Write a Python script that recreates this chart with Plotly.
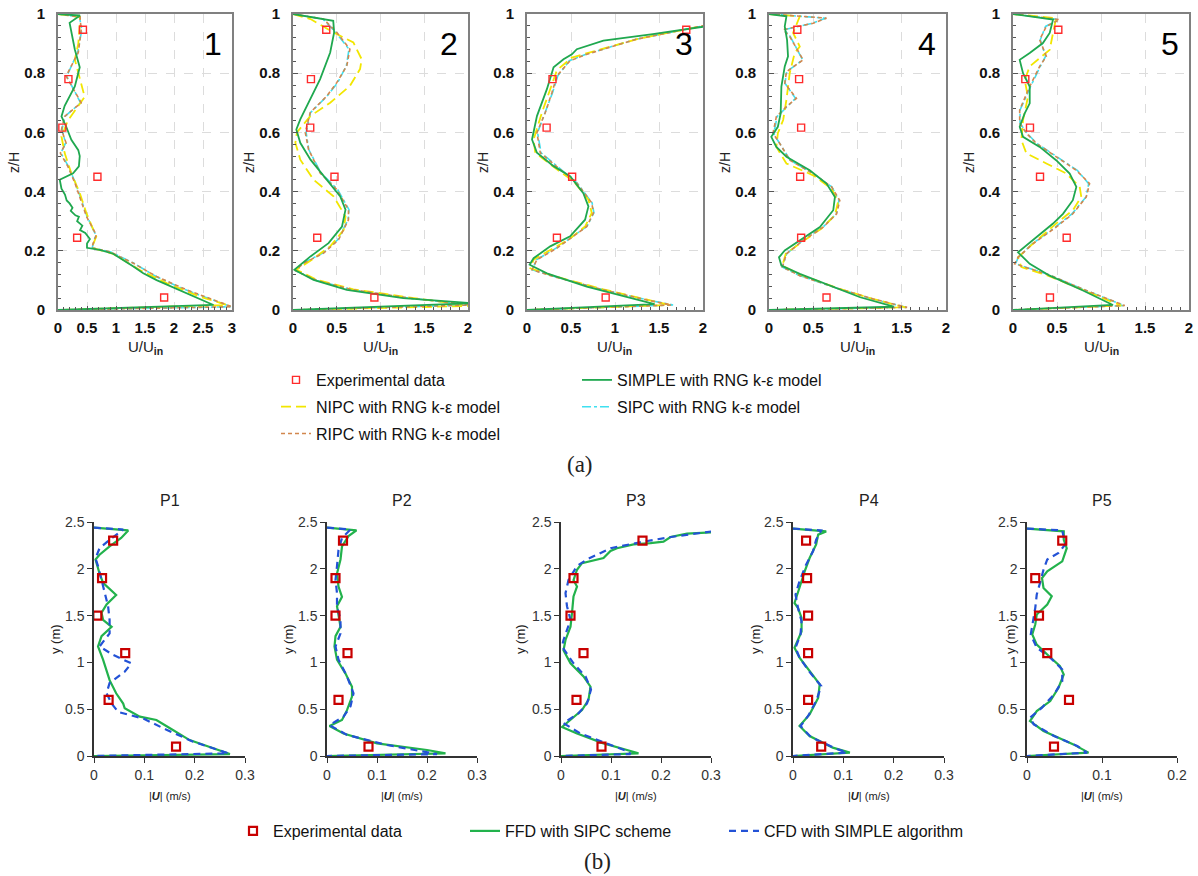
import plotly.graph_objects as go

# ---------------- DATA ----------------
# Top row (a): z/H profiles of U/Uin, five locations
EXP_Z = [0.042, 0.244, 0.45, 0.616, 0.78, 0.947]
A1_EXP_U = [1.83, 0.33, 0.68, 0.075, 0.18, 0.43]
A2_EXP_U = [0.93, 0.277, 0.474, 0.197, 0.205, 0.38]
A3_EXP_U = [0.894, 0.34, 0.513, 0.223, 0.29, 1.81]
A4_EXP_U = [0.65, 0.363, 0.352, 0.363, 0.34, 0.32]
A5_EXP_U = [0.42, 0.61, 0.307, 0.193, 0.14, 0.515]

# panel 1
A1_SIMPLE_Z = [1.0, 0.995, 0.97, 0.936, 0.88, 0.82, 0.755, 0.69, 0.654, 0.62, 0.575, 0.54, 0.52, 0.485, 0.462, 0.44,
               0.41, 0.39, 0.37, 0.36, 0.345, 0.335, 0.32, 0.315, 0.3, 0.285, 0.27, 0.26, 0.24, 0.225, 0.21, 0.203,
               0.19, 0.147, 0.124, 0.101, 0.056, 0.017, 0.0]
A1_SIMPLE_U = [0.0, 0.38, 0.2, 0.23, 0.29, 0.375, 0.29, 0.115, 0.06, 0.14, 0.23, 0.35, 0.375, 0.36, 0.26, 0.03,
               0.06, 0.12, 0.15, 0.2, 0.25, 0.22, 0.3, 0.36, 0.33, 0.42, 0.38, 0.47, 0.55, 0.5, 0.5, 0.72,
               0.95, 1.3, 1.47, 1.7, 2.22, 2.68, 0.0]
A1_NIPC_Z = [1.0, 0.99, 0.96, 0.9, 0.846, 0.72, 0.64, 0.586, 0.53, 0.462, 0.395, 0.327, 0.248, 0.21, 0.19, 0.135,
             0.09, 0.045, 0.017, 0.0]
A1_NIPC_U = [0.0, 0.38, 0.375, 0.35, 0.29, 0.46, 0.17, 0.06, 0.115, 0.23, 0.375, 0.49, 0.66, 0.58, 0.95, 1.41,
             1.88, 2.45, 2.91, 0.0]
A1_RIPC_Z = [1.0, 0.99, 0.947, 0.87, 0.79, 0.70, 0.654, 0.61, 0.564, 0.53, 0.485, 0.43, 0.316, 0.254, 0.21, 0.197,
             0.158, 0.113, 0.068, 0.034, 0.011, 0.0]
A1_RIPC_U = [0.0, 0.38, 0.4, 0.35, 0.14, 0.4, 0.115, 0.06, 0.14, 0.04, 0.17, 0.29, 0.49, 0.66, 0.58, 0.89,
             1.3, 1.7, 2.22, 2.68, 3.0, 0.0]
A1_SIPC_U = [0.0, 0.37, 0.41, 0.34, 0.15, 0.39, 0.12, 0.07, 0.13, 0.05, 0.18, 0.3, 0.5, 0.65, 0.59, 0.9,
             1.31, 1.69, 2.2, 2.66, 2.98, 0.0]

# panel 2
A2_SIMPLE_Z = [1.0, 0.977, 0.938, 0.87, 0.78, 0.712, 0.644, 0.61, 0.565, 0.508, 0.44, 0.384, 0.339, 0.282, 0.226,
               0.181, 0.136, 0.102, 0.068, 0.04, 0.023, 0.0]
A2_SIMPLE_U = [0.0, 0.46, 0.47, 0.425, 0.31, 0.2, 0.083, 0.038, 0.083, 0.2, 0.387, 0.54, 0.6, 0.56, 0.406,
               0.2, 0.015, 0.235, 0.615, 1.26, 2.05, 0.0]
A2_RIPC_Z = [1.0, 0.983, 0.938, 0.881, 0.825, 0.768, 0.723, 0.667, 0.6, 0.542, 0.463, 0.407, 0.339, 0.305, 0.237,
             0.192, 0.158, 0.133, 0.1, 0.068, 0.04, 0.017, 0.0]
A2_RIPC_U = [0.0, 0.35, 0.5, 0.65, 0.615, 0.5, 0.387, 0.197, 0.14, 0.178, 0.31, 0.5, 0.634, 0.634, 0.52,
             0.35, 0.12, 0.027, 0.27, 0.69, 1.34, 2.05, 0.0]
A2_SIPC_U = [0.0, 0.34, 0.49, 0.64, 0.61, 0.51, 0.39, 0.2, 0.15, 0.18, 0.32, 0.51, 0.64, 0.63, 0.51,
             0.34, 0.11, 0.03, 0.27, 0.68, 1.33, 2.05, 0.0]
A2_NIPC_Z = [1.0, 0.983, 0.938, 0.904, 0.847, 0.814, 0.757, 0.7, 0.655, 0.6, 0.565, 0.508, 0.44, 0.384, 0.316,
             0.271, 0.215, 0.17, 0.136, 0.102, 0.07, 0.042, 0.014, 0.0]
A2_NIPC_U = [0.0, 0.2, 0.46, 0.69, 0.785, 0.766, 0.65, 0.425, 0.197, 0.045, 0.027, 0.083, 0.235, 0.463, 0.6,
             0.58, 0.425, 0.216, 0.038, 0.27, 0.69, 1.34, 2.05, 0.0]

# panel 3
A3_SIMPLE_Z = [0.96, 0.957, 0.932, 0.91, 0.881, 0.864, 0.847, 0.82, 0.746, 0.655, 0.576, 0.531, 0.486, 0.452,
               0.395, 0.35, 0.305, 0.249, 0.215, 0.175, 0.153, 0.124, 0.079, 0.04, 0.02, 0.0]
A3_SIMPLE_U = [2.1, 2.0, 1.43, 0.868, 0.566, 0.51, 0.415, 0.302, 0.226, 0.113, 0.057, 0.113, 0.302, 0.49,
               0.64, 0.698, 0.66, 0.49, 0.264, 0.075, 0.03, 0.226, 0.679, 1.17, 1.45, 0.0]
A3_RIPC_Z = [0.965, 0.96, 0.915, 0.864, 0.842, 0.791, 0.734, 0.667, 0.599, 0.531, 0.475, 0.429, 0.362, 0.328,
             0.282, 0.249, 0.209, 0.17, 0.136, 0.113, 0.068, 0.034, 0.017, 0.0]
A3_RIPC_U = [2.1, 2.0, 1.245, 0.68, 0.49, 0.34, 0.283, 0.208, 0.113, 0.151, 0.377, 0.566, 0.736, 0.755,
             0.679, 0.528, 0.34, 0.113, 0.057, 0.302, 0.868, 1.36, 1.64, 0.0]
A3_SIPC_U = [2.1, 2.0, 1.24, 0.67, 0.48, 0.35, 0.29, 0.21, 0.12, 0.16, 0.38, 0.57, 0.74, 0.76,
             0.68, 0.52, 0.33, 0.11, 0.06, 0.31, 0.87, 1.37, 1.66, 0.0]
A3_NIPC_Z = [0.965, 0.96, 0.915, 0.853, 0.81, 0.746, 0.667, 0.576, 0.531, 0.475, 0.435, 0.373, 0.328, 0.282,
             0.237, 0.203, 0.17, 0.141, 0.115, 0.07, 0.036, 0.017, 0.0]
A3_NIPC_U = [2.1, 2.0, 1.25, 0.51, 0.34, 0.264, 0.17, 0.075, 0.094, 0.34, 0.528, 0.698, 0.736, 0.66,
             0.47, 0.264, 0.075, 0.038, 0.302, 0.868, 1.36, 1.62, 0.0]

# panel 4
A4_SIMPLE_Z = [1.0, 0.992, 0.958, 0.913, 0.857, 0.823, 0.755, 0.664, 0.619, 0.585, 0.551, 0.518, 0.472, 0.427,
               0.382, 0.337, 0.28, 0.235, 0.201, 0.178, 0.15, 0.122, 0.077, 0.043, 0.011, 0.0]
A4_SIMPLE_U = [0.0, 0.197, 0.178, 0.204, 0.215, 0.178, 0.14, 0.132, 0.1, 0.026, 0.083, 0.197, 0.46, 0.65,
               0.745, 0.726, 0.575, 0.348, 0.178, 0.113, 0.14, 0.348, 0.726, 1.03, 1.41, 0.0]
A4_RIPC_Z = [1.0, 0.986, 0.969, 0.947, 0.924, 0.845, 0.805, 0.766, 0.715, 0.687, 0.653, 0.619, 0.597, 0.563,
             0.506, 0.461, 0.416, 0.37, 0.325, 0.28, 0.235, 0.19, 0.145, 0.116, 0.071, 0.037, 0.009, 0.0]
A4_RIPC_U = [0.0, 0.65, 0.5, 0.16, 0.234, 0.386, 0.197, 0.178, 0.31, 0.197, 0.083, 0.064, 0.045, 0.121,
             0.234, 0.499, 0.707, 0.8, 0.764, 0.612, 0.386, 0.197, 0.151, 0.348, 0.8, 1.18, 1.56, 0.0]
A4_SIPC_U = [0.0, 0.64, 0.49, 0.17, 0.24, 0.38, 0.2, 0.18, 0.3, 0.2, 0.09, 0.07, 0.05, 0.12,
             0.24, 0.5, 0.71, 0.79, 0.76, 0.61, 0.38, 0.2, 0.15, 0.35, 0.79, 1.17, 1.55, 0.0]
A4_NIPC_Z = [1.0, 0.992, 0.936, 0.89, 0.868, 0.8, 0.71, 0.642, 0.597, 0.551, 0.495, 0.455, 0.41, 0.365, 0.32,
             0.275, 0.229, 0.19, 0.15, 0.12, 0.071, 0.037, 0.009, 0.0]
A4_NIPC_U = [0.0, 0.348, 0.272, 0.348, 0.29, 0.234, 0.197, 0.16, 0.1, 0.083, 0.197, 0.499, 0.707, 0.78, 0.745,
             0.594, 0.367, 0.189, 0.151, 0.348, 0.8, 1.18, 1.54, 0.0]

# panel 5
A5_SIMPLE_Z = [1.0, 0.981, 0.936, 0.902, 0.868, 0.845, 0.8, 0.755, 0.698, 0.664, 0.619, 0.585, 0.551, 0.506,
               0.461, 0.416, 0.371, 0.325, 0.292, 0.235, 0.195, 0.156, 0.116, 0.066, 0.017, 0.0]
A5_SIMPLE_U = [0.0, 0.455, 0.417, 0.34, 0.19, 0.076, 0.114, 0.19, 0.19, 0.133, 0.076, 0.114, 0.303, 0.49,
               0.644, 0.72, 0.68, 0.568, 0.455, 0.227, 0.057, 0.19, 0.417, 0.795, 1.136, 0.0]
A5_RIPC_Z = [1.0, 0.981, 0.958, 0.913, 0.857, 0.823, 0.755, 0.676, 0.631, 0.597, 0.563, 0.518, 0.472, 0.427,
             0.382, 0.325, 0.28, 0.224, 0.178, 0.156, 0.12, 0.066, 0.015, 0.0]
A5_RIPC_U = [0.0, 0.53, 0.379, 0.303, 0.379, 0.303, 0.19, 0.076, 0.076, 0.152, 0.265, 0.49, 0.72, 0.87,
             0.833, 0.68, 0.49, 0.227, 0.057, 0.019, 0.398, 0.833, 1.27, 0.0]
A5_SIPC_U = [0.0, 0.52, 0.37, 0.31, 0.37, 0.31, 0.2, 0.08, 0.08, 0.16, 0.27, 0.5, 0.73, 0.86,
             0.83, 0.67, 0.48, 0.22, 0.06, 0.03, 0.4, 0.83, 1.26, 0.0]
A5_NIPC_Z = [1.0, 0.986, 0.936, 0.879, 0.823, 0.777, 0.72, 0.642, 0.574, 0.529, 0.495, 0.461, 0.416, 0.382,
             0.337, 0.292, 0.224, 0.178, 0.145, 0.116, 0.063, 0.015, 0.0]
A5_NIPC_U = [0.0, 0.49, 0.455, 0.417, 0.19, 0.133, 0.17, 0.114, 0.095, 0.152, 0.379, 0.606, 0.758, 0.776,
             0.68, 0.49, 0.227, 0.057, 0.095, 0.398, 0.833, 1.23, 0.0]

TOP_LABELS = ["1", "2", "3", "4", "5"]
TOP_XMAX = [3, 2, 2, 2, 2]

# Bottom row (b): y (m) profiles of |U| (m/s), P1..P5
EXP_Y = [0.1, 0.6, 1.1, 1.5, 1.9, 2.3]
B1_EXP_U = [0.163, 0.029, 0.062, 0.0066, 0.016, 0.038]
B2_EXP_U = [0.083, 0.023, 0.041, 0.017, 0.017, 0.032]
B3_EXP_U = [0.081, 0.031, 0.045, 0.019, 0.025, 0.163]
B4_EXP_U = [0.056, 0.03, 0.03, 0.03, 0.028, 0.026]
B5_EXP_U = [0.036, 0.056, 0.027, 0.016, 0.011, 0.047]

B1_FFD_Y = [2.44, 2.41, 2.33, 2.24, 2.15, 2.1, 1.95, 1.85, 1.72, 1.62, 1.53, 1.455, 1.38, 1.28, 1.17, 1.03, 0.81,
            0.67, 0.56, 0.51, 0.42, 0.385, 0.296, 0.17, 0.046, 0.02, 0.0]
B1_FFD_U = [0.0, 0.068, 0.054, 0.031, 0.011, 0.003, 0.011, 0.018, 0.044, 0.025, 0.015, 0.018, 0.035, 0.015,
            0.008, 0.018, 0.031, 0.044, 0.058, 0.061, 0.091, 0.124, 0.151, 0.19, 0.257, 0.27, 0.0]
B1_CFD_Y = [2.44, 2.42, 2.31, 2.22, 2.11, 2.03, 1.88, 1.74, 1.6, 1.455, 1.31, 1.17, 1.08, 0.99, 0.9, 0.78, 0.67,
            0.56, 0.47, 0.4, 0.28, 0.153, 0.082, 0.029, 0.0]
B1_CFD_U = [0.0, 0.058, 0.031, 0.011, 0.003, 0.008, 0.015, 0.021, 0.028, 0.031, 0.031, 0.011, 0.038, 0.074,
            0.061, 0.031, 0.025, 0.035, 0.048, 0.098, 0.144, 0.197, 0.237, 0.267, 0.0]

B2_FFD_Y = [2.44, 2.41, 2.35, 2.24, 2.1, 1.95, 1.81, 1.7, 1.6, 1.49, 1.38, 1.28, 1.17, 1.03, 0.88, 0.74, 0.635,
            0.49, 0.385, 0.32, 0.24, 0.135, 0.064, 0.029, 0.0]
B2_FFD_U = [0.0, 0.059, 0.043, 0.03, 0.027, 0.02, 0.023, 0.03, 0.02, 0.023, 0.027, 0.017, 0.015, 0.02, 0.037,
            0.05, 0.05, 0.04, 0.03, 0.005, 0.033, 0.1, 0.2, 0.237, 0.0]
B2_CFD_Y = [2.44, 2.42, 2.33, 2.2, 2.03, 1.88, 1.74, 1.6, 1.455, 1.31, 1.17, 1.03, 0.85, 0.67, 0.53, 0.42, 0.33,
            0.225, 0.118, 0.046, 0.02, 0.0]
B2_CFD_U = [0.0, 0.047, 0.03, 0.023, 0.02, 0.017, 0.02, 0.02, 0.027, 0.027, 0.017, 0.023, 0.04, 0.053, 0.047,
            0.033, 0.005, 0.04, 0.12, 0.193, 0.22, 0.0]

B3_FFD_Y = [2.39, 2.375, 2.34, 2.29, 2.275, 2.26, 2.22, 2.19, 2.115, 2.08, 2.06, 1.99, 1.88, 1.81, 1.705, 1.53,
            1.38, 1.24, 1.13, 0.99, 0.85, 0.74, 0.6, 0.49, 0.385, 0.31, 0.24, 0.135, 0.064, 0.029, 0.0]
B3_FFD_U = [0.302, 0.252, 0.219, 0.205, 0.179, 0.145, 0.112, 0.099, 0.085, 0.059, 0.042, 0.032, 0.025, 0.032,
            0.025, 0.022, 0.019, 0.009, 0.005, 0.019, 0.045, 0.059, 0.055, 0.042, 0.019, 0.002, 0.032, 0.085,
            0.132, 0.155, 0.0]
B3_CFD_Y = [2.4, 2.34, 2.29, 2.22, 2.1, 2.03, 1.88, 1.74, 1.6, 1.455, 1.24, 1.17, 0.99, 0.85, 0.71, 0.56, 0.456,
            0.35, 0.24, 0.118, 0.046, 0.021, 0.0]
B3_CFD_U = [0.302, 0.22, 0.165, 0.099, 0.052, 0.032, 0.015, 0.009, 0.012, 0.019, 0.005, 0.002, 0.025, 0.049,
            0.06, 0.052, 0.035, 0.005, 0.039, 0.099, 0.135, 0.139, 0.0]

B4_FFD_Y = [2.43, 2.4, 2.365, 2.26, 2.115, 1.97, 1.8, 1.635, 1.58, 1.476, 1.33, 1.156, 1.05, 0.907, 0.765, 0.62,
            0.445, 0.32, 0.213, 0.089, 0.036, 0.0]
B4_FFD_U = [0.0, 0.066, 0.05, 0.046, 0.033, 0.023, 0.013, 0.003, 0.01, 0.017, 0.017, 0.003, 0.013, 0.033, 0.053,
            0.05, 0.033, 0.013, 0.033, 0.079, 0.113, 0.0]
B4_CFD_Y = [2.43, 2.41, 2.31, 2.19, 2.045, 1.87, 1.725, 1.58, 1.44, 1.3, 1.156, 1.05, 0.89, 0.747, 0.587, 0.427,
            0.32, 0.2, 0.078, 0.036, 0.0]
B4_CFD_U = [0.0, 0.056, 0.046, 0.04, 0.026, 0.013, 0.005, 0.01, 0.017, 0.015, 0.005, 0.013, 0.034, 0.056, 0.046,
            0.03, 0.015, 0.036, 0.086, 0.107, 0.0]

B5_FFD_Y = [2.43, 2.4, 2.31, 2.22, 2.08, 1.974, 1.9, 1.795, 1.707, 1.618, 1.511, 1.405, 1.298, 1.19, 1.085, 0.96,
            0.871, 0.729, 0.587, 0.48, 0.373, 0.267, 0.124, 0.036, 0.0]
B5_FFD_U = [0.0, 0.049, 0.049, 0.053, 0.047, 0.027, 0.02, 0.022, 0.033, 0.027, 0.013, 0.011, 0.007, 0.013, 0.027,
            0.044, 0.049, 0.042, 0.031, 0.013, 0.004, 0.022, 0.062, 0.082, 0.0]
B5_CFD_Y = [2.43, 2.41, 2.26, 2.17, 2.1, 1.99, 1.867, 1.725, 1.58, 1.44, 1.298, 1.156, 1.05, 0.925, 0.8, 0.658,
            0.516, 0.409, 0.338, 0.213, 0.107, 0.036, 0.0]
B5_CFD_U = [0.0, 0.047, 0.051, 0.042, 0.027, 0.022, 0.018, 0.013, 0.011, 0.008, 0.005, 0.013, 0.031, 0.047, 0.047,
            0.036, 0.02, 0.004, 0.009, 0.036, 0.067, 0.08, 0.0]

BOTTOM_TITLES = ["P1", "P2", "P3", "P4", "P5"]
BOTTOM_XMAX = [0.3, 0.3, 0.3, 0.3, 0.2]

# ---------------- LAYOUT GEOMETRY (pixels in the 1198x876 page) ----------------
W, H = 1198, 876
TOP_X = [(58, 232), (293, 468), (527, 703), (769, 946), (1013, 1189)]
TOP_Y = (14, 310)
BOT_X = [(94, 245), (327, 477), (561, 711), (793, 944), (1027, 1177)]
BOT_Y = (522, 756)
BOT_YTITLE_OFF = [39, 39, 41, 38, 17]


def px(x):
    return x / W


def py(y):
    return 1 - y / H


SANS = "Liberation Sans, Arial, sans-serif"
NARROW = "Liberation Sans Narrow, Arial Narrow, Liberation Sans, Arial, sans-serif"
SERIF = "Liberation Serif, Times New Roman, serif"

C_EXP_A = "#ff2b2b"
C_NIPC = "#f2e600"
C_RIPC = "#d2874e"
C_SIMPLE = "#1fa84f"
C_SIPC = "#3fe0f0"
C_EXP_B = "#c80000"
C_FFD = "#22b24c"
C_CFD = "#2352d6"

top_sets = [
    (A1_EXP_U, A1_SIMPLE_U, A1_SIMPLE_Z, A1_NIPC_U, A1_NIPC_Z, A1_RIPC_U, A1_RIPC_Z, A1_SIPC_U),
    (A2_EXP_U, A2_SIMPLE_U, A2_SIMPLE_Z, A2_NIPC_U, A2_NIPC_Z, A2_RIPC_U, A2_RIPC_Z, A2_SIPC_U),
    (A3_EXP_U, A3_SIMPLE_U, A3_SIMPLE_Z, A3_NIPC_U, A3_NIPC_Z, A3_RIPC_U, A3_RIPC_Z, A3_SIPC_U),
    (A4_EXP_U, A4_SIMPLE_U, A4_SIMPLE_Z, A4_NIPC_U, A4_NIPC_Z, A4_RIPC_U, A4_RIPC_Z, A4_SIPC_U),
    (A5_EXP_U, A5_SIMPLE_U, A5_SIMPLE_Z, A5_NIPC_U, A5_NIPC_Z, A5_RIPC_U, A5_RIPC_Z, A5_SIPC_U),
]
bot_sets = [
    (B1_EXP_U, B1_FFD_U, B1_FFD_Y, B1_CFD_U, B1_CFD_Y),
    (B2_EXP_U, B2_FFD_U, B2_FFD_Y, B2_CFD_U, B2_CFD_Y),
    (B3_EXP_U, B3_FFD_U, B3_FFD_Y, B3_CFD_U, B3_CFD_Y),
    (B4_EXP_U, B4_FFD_U, B4_FFD_Y, B4_CFD_U, B4_CFD_Y),
    (B5_EXP_U, B5_FFD_U, B5_FFD_Y, B5_CFD_U, B5_CFD_Y),
]

fig = go.Figure()
layout = {}
annotations = []

# ---------------- TOP ROW ----------------
for i, (eu, su, sz, nu, nz, ru, rz, cu) in enumerate(top_sets):
    n = i + 1
    xa = "x" if n == 1 else f"x{n}"
    ya = "y" if n == 1 else f"y{n}"
    first = (i == 0)
    fig.add_trace(go.Scatter(x=cu, y=rz, xaxis=xa, yaxis=ya, mode="lines", name="SIPC with RNG k-ε model",
                             line=dict(color=C_SIPC, width=1.6, dash="dashdot"), showlegend=first,
                             legend="legend2", legendrank=2, legendgroup="sipc"))
    fig.add_trace(go.Scatter(x=nu, y=nz, xaxis=xa, yaxis=ya, mode="lines", name="NIPC with RNG k-ε model",
                             line=dict(color=C_NIPC, width=1.8, dash="10px,5px"), showlegend=first,
                             legend="legend", legendrank=2, legendgroup="nipc"))
    fig.add_trace(go.Scatter(x=ru, y=rz, xaxis=xa, yaxis=ya, mode="lines", name="RIPC with RNG k-ε model",
                             line=dict(color=C_RIPC, width=1.6, dash="4px,3px"), showlegend=first,
                             legend="legend", legendrank=3, legendgroup="ripc"))
    fig.add_trace(go.Scatter(x=su, y=sz, xaxis=xa, yaxis=ya, mode="lines", name="SIMPLE with RNG k-ε model",
                             line=dict(color=C_SIMPLE, width=1.8), showlegend=first,
                             legend="legend2", legendrank=1, legendgroup="simple"))
    fig.add_trace(go.Scatter(x=eu, y=EXP_Z, xaxis=xa, yaxis=ya, mode="markers", name="Experimental data",
                             marker=dict(symbol="square-open", size=7, color=C_EXP_A, line=dict(width=1.4)),
                             showlegend=first, legend="legend", legendrank=1, legendgroup="expa"))

    x0, x1 = TOP_X[i]
    xkey = "xaxis" if n == 1 else f"xaxis{n}"
    ykey = "yaxis" if n == 1 else f"yaxis{n}"
    layout[xkey] = dict(
        domain=[px(x0), px(x1)], anchor=ya, range=[0, TOP_XMAX[i]], dtick=0.5,
        showline=True, mirror=True, linecolor="#808080", linewidth=1.6,
        ticks="inside", ticklen=4, tickcolor="#555", tickwidth=1,
        showgrid=True, gridcolor="#dcdcdc", griddash="dash", gridwidth=1, zeroline=False,
        tickfont=dict(family=NARROW, size=15, color="#111", weight="bold"),
        ticklabelstandoff=3, ticklabeloverflow="allow",
        minor=dict(ticks="inside", ticklen=3, dtick=0.1, tickcolor="#555", showgrid=False),
    )
    layout[ykey] = dict(
        domain=[py(TOP_Y[1]), py(TOP_Y[0])], anchor=xa, range=[0, 1], dtick=0.2,
        showline=True, mirror=True, linecolor="#808080", linewidth=1.6,
        ticks="inside", ticklen=5, tickcolor="#555", tickwidth=1,
        showgrid=True, gridcolor="#dcdcdc", griddash="dash", gridwidth=1, zeroline=False,
        tickfont=dict(family=NARROW, size=15, color="#111", weight="bold"),
        ticklabelstandoff=8, ticklabeloverflow="allow",
        minor=dict(ticks="inside", ticklen=3, dtick=0.04, tickcolor="#555", showgrid=False),
    )
    annotations.append(dict(text=TOP_LABELS[i], xref=f"{xa} domain", yref=f"{ya} domain", x=0.89, y=0.9,
                            showarrow=False, font=dict(family=SANS, size=32, color="#000"),
                            xanchor="center", yanchor="middle"))
    annotations.append(dict(text="z/H", xref="paper", yref="paper", x=px(x0 - 44), y=py(163), textangle=-90,
                            showarrow=False, font=dict(family=SANS, size=14, color="#222"),
                            xanchor="center", yanchor="middle"))
    annotations.append(dict(text="U/U<sub><b>in</b></sub>", xref="paper", yref="paper", x=px((x0 + x1) / 2),
                            y=py(347), showarrow=False, font=dict(family=SANS, size=15, color="#222"),
                            xanchor="center", yanchor="middle"))

# ---------------- BOTTOM ROW ----------------
for i, (eu, fu, fy, cu, cy) in enumerate(bot_sets):
    n = i + 6
    xa, ya = f"x{n}", f"y{n}"
    first = (i == 0)
    fig.add_trace(go.Scatter(x=fu, y=fy, xaxis=xa, yaxis=ya, mode="lines", name="FFD with SIPC scheme",
                             line=dict(color=C_FFD, width=2.2), showlegend=first, legend="legend4"))
    fig.add_trace(go.Scatter(x=cu, y=cy, xaxis=xa, yaxis=ya, mode="lines", name="CFD with SIMPLE algorithm",
                             line=dict(color=C_CFD, width=2.2, dash="7px,5px"), showlegend=first,
                             legend="legend5"))
    fig.add_trace(go.Scatter(x=eu, y=EXP_Y, xaxis=xa, yaxis=ya, mode="markers", name="Experimental data",
                             marker=dict(symbol="square-open", size=8, color=C_EXP_B, line=dict(width=2.2)),
                             showlegend=first, legend="legend3"))
    x0, x1 = BOT_X[i]
    layout[f"xaxis{n}"] = dict(
        domain=[px(x0), px(x1)], anchor=ya, range=[0, BOTTOM_XMAX[i]], dtick=0.1,
        showline=True, linecolor="#333", linewidth=1.5, ticks="outside", ticklen=5, tickcolor="#333",
        showgrid=False, zeroline=False, ticklabeloverflow="allow",
        tickfont=dict(family=SANS, size=14, color="#333"),
    )
    layout[f"yaxis{n}"] = dict(
        domain=[py(BOT_Y[1]), py(BOT_Y[0])], anchor=xa, range=[0, 2.5], dtick=0.5,
        showline=True, linecolor="#333", linewidth=1.5, ticks="outside", ticklen=5, tickcolor="#333",
        showgrid=False, zeroline=False, ticklabeloverflow="allow",
        tickfont=dict(family=SANS, size=14, color="#333"),
    )
    annotations.append(dict(text=BOTTOM_TITLES[i], xref="paper", yref="paper", x=px((x0 + x1) / 2), y=py(500),
                            showarrow=False, font=dict(family=SANS, size=16, color="#222"),
                            xanchor="center", yanchor="middle"))
    annotations.append(dict(text="|<b><i>U</i></b>| (m/s)", xref="paper", yref="paper", x=px((x0 + x1) / 2),
                            y=py(796), showarrow=False, font=dict(family=SANS, size=11, color="#222"),
                            xanchor="center", yanchor="middle"))
    annotations.append(dict(text="y (m)", xref="paper", yref="paper", x=px(x0 - BOT_YTITLE_OFF[i]), y=py(639),
                            textangle=-90, showarrow=False, font=dict(family=SANS, size=13, color="#222"),
                            xanchor="center", yanchor="middle"))

annotations.append(dict(text="(a)", xref="paper", yref="paper", x=px(580), y=py(464), showarrow=False,
                        font=dict(family=SERIF, size=23, color="#222"), xanchor="center", yanchor="middle"))
annotations.append(dict(text="(b)", xref="paper", yref="paper", x=px(597), y=py(861), showarrow=False,
                        font=dict(family=SERIF, size=23, color="#222"), xanchor="center", yanchor="middle"))

LEG_FONT = dict(family=SANS, size=16, color="#111")
leg_common = dict(bgcolor="rgba(0,0,0,0)", borderwidth=0, font=LEG_FONT, xanchor="left", yanchor="top",
                  itemclick=False, itemdoubleclick=False)

layout.update(
    width=W, height=H, margin=dict(l=0, r=0, t=0, b=0, autoexpand=False),
    paper_bgcolor="white", plot_bgcolor="white",
    annotations=annotations,
    legend=dict(x=px(276), y=py(363), orientation="v", tracegroupgap=3, **leg_common),
    legend2=dict(x=px(577), y=py(363), orientation="v", tracegroupgap=3, **leg_common),
    legend3=dict(x=px(233), y=py(814), orientation="h", **leg_common),
    legend4=dict(x=px(465), y=py(814), orientation="h", **leg_common),
    legend5=dict(x=px(724), y=py(814), orientation="h", **leg_common),
)
fig.update_layout(**layout)

# remove the browser's default page margin so the 1198x876 figure fills the window exactly
fig.write_html(
    "out.html",
    config={"displayModeBar": False},
    post_script="document.body.style.margin='0px';document.body.style.overflow='hidden';",
)
